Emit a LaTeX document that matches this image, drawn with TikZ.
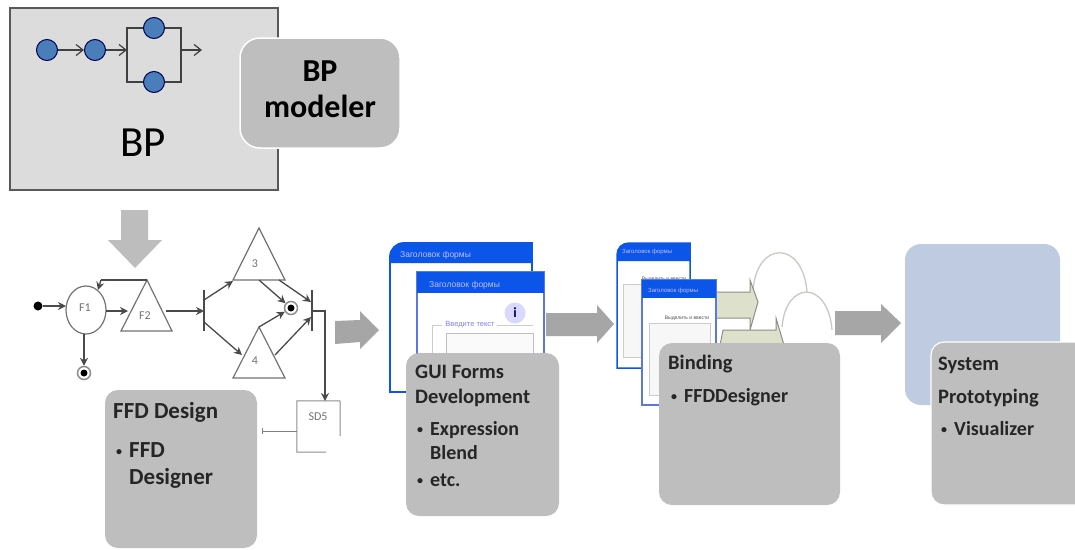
\documentclass[tikz,border=0pt]{standalone}
\usepackage{fontspec}
\setmainfont{Carlito}
\newfontfamily\cyr{Liberation Sans}
\usetikzlibrary{arrows.meta,shapes.geometric,calc}
\definecolor{boxgrey}{HTML}{BEBEBE}
\definecolor{arrowgrey}{HTML}{A6A6A6}
\definecolor{downgrey}{HTML}{BDBDBD}
\definecolor{pagegrey}{HTML}{DCDCDC}
\definecolor{dotblue}{HTML}{4A7EBB}
\definecolor{winblue}{HTML}{0B55E8}
\definecolor{sideblue}{HTML}{5A78E0}
\definecolor{flowline}{HTML}{4A4A4A}
\definecolor{paleblue}{HTML}{BFCBE1}
\definecolor{palegreen}{HTML}{DDE0CA}
\definecolor{archgrey}{HTML}{C9C9C3}
\tikzset{
  x=1pt,y=-1pt,
  toolbox/.style={fill=boxgrey,draw=none,rounded corners=13pt},
  boxhead/.style={anchor=base west,inner sep=0pt,font=\bfseries\fontsize{20.5}{21}\selectfont,text=black!85},
  boxitem/.style={anchor=base west,inner sep=0pt,font=\bfseries\fontsize{20}{20}\selectfont,text=black!85},
  bulletmark/.style={anchor=base west,inner sep=0pt,font=\bfseries\fontsize{12}{12}\selectfont,text=black!85},
  dotnode/.style={circle,draw=black!70!blue,line width=1pt,fill=dotblue,minimum size=21pt,inner sep=0pt},
  bpflow/.style={draw=black!75,line width=1.2pt,-{Straight Barb[length=7pt,width=11pt]}},
  bpline/.style={draw=black!75,line width=1.2pt},
  flow/.style={draw=flowline,line width=1.3pt,-{Stealth[length=8pt,width=8pt]}},
  flowplain/.style={draw=flowline,line width=1.3pt},
  shapeline/.style={draw=black!55,line width=1.2pt,fill=white},
  smalllabel/.style={inner sep=0pt,font=\fontsize{12}{12}\selectfont,text=black!55},
  endring/.style={circle,draw=black!45,line width=1.5pt,fill=white,minimum size=13pt,inner sep=0pt},
  enddot/.style={circle,fill=black,minimum size=7pt,inner sep=0pt},
  blockarrow/.style={fill=arrowgrey,draw=none},
  wintitle/.style={anchor=west,inner sep=0pt,text=white!75!blue,font=\cyr\fontsize{8.5}{8.5}\selectfont},
  tinytext/.style={inner sep=0pt,text=black!70,font=\cyr\fontsize{5}{5}\selectfont},
}
\begin{document}
\begin{tikzpicture}
\useasboundingbox (0,0) rectangle (1075,549);
\fill[white] (0,0) rectangle (1075,549);

% BP panel
\node[draw=black!65,line width=1.3pt,fill=pagegrey,minimum width=268pt,minimum height=182pt,inner sep=0pt] (bppanel) at (144,99) {};
\node[dotnode] (b1) at (47,50) {};
\node[dotnode] (b2) at (95,50) {};
\node[dotnode] (b3) at (154,28) {};
\node[dotnode] (b4) at (154,82) {};
\coordinate (joinL) at (127,50);
\coordinate (joinR) at (181,50);
\coordinate (bpout) at (202,50);
\draw[bpflow] (b1) -- (b2);
\draw[bpflow] (b2) -- (joinL);
\draw[bpline] (b3) -| (joinL) |- (b4);
\draw[bpline] (b3) -| (joinR) |- (b4);
\draw[bpflow] (joinR) -- (bpout);
\node[inner sep=0pt,font=\fontsize{43}{43}\selectfont,text=black] (bplabel) at (143,143) {BP};
\node[fill=boxgrey,draw=white,line width=1.5pt,rounded corners=20pt,minimum width=160pt,minimum height=110pt,inner sep=0pt] (modeler) at (320,93) {};
\node[inner sep=0pt,font=\bfseries\fontsize{32}{32}\selectfont,text=black] (modA) at (320,71) {BP};
\node[inner sep=0pt,font=\bfseries\fontsize{32}{32}\selectfont,text=black] (modB) at (320,106) {modeler};

% Down arrow
\fill[downgrey] (121,210) -- (148,210) -- (148,240) -- (162,240) -- (135,268) -- (108,240) -- (121,240) -- cycle;

% FFD net
\node[circle,fill=black,minimum size=9pt,inner sep=0pt] (start) at (38,306) {};
\node[ellipse,draw=black!55,line width=1.2pt,fill=white,minimum width=40pt,minimum height=48pt,inner sep=0pt] (F1) at (86,310) {};
\node[smalllabel] (F1t) at (85,308) {F1};
\coordinate (f2a) at (147,280); \coordinate (f2l) at (121,331); \coordinate (f2r) at (172,331);
\draw[shapeline] (f2a) -- (f2l) -- (f2r) -- cycle;
\node[smalllabel] (F2t) at (145,316) {F2};
\coordinate (t3a) at (259,228); \coordinate (t3l) at (233,280); \coordinate (t3r) at (285,280);
\draw[shapeline] (t3a) -- (t3l) -- (t3r) -- cycle;
\node[smalllabel] (T3t) at (255,264) {3};
\coordinate (t4a) at (259,327); \coordinate (t4l) at (233,378); \coordinate (t4r) at (285,378);
\draw[shapeline] (t4a) -- (t4l) -- (t4r) -- cycle;
\node[smalllabel] (T4t) at (255,361) {4};
\coordinate (barLt) at (204,290); \coordinate (barLb) at (204,331);
\coordinate (barRt) at (312,290); \coordinate (barRb) at (312,331);
\draw[flowplain] (barLt) -- (barLb);
\draw[flowplain] (barRt) -- (barRb);
\node[endring] (endA) at (84,373) {};
\node[enddot] (endAd) at (84,373) {};
\node[endring] (endB) at (291,308) {};
\node[enddot] (endBd) at (291,308) {};
\coordinate (f1in) at (66,306);
\draw[flow] (start) -- (f1in);
\coordinate (f1bot) at (84,334);
\draw[flow] (f1bot) -- (endA);
\coordinate (f2in) at (128,311); \coordinate (f1out) at (106,311);
\draw[flow] (f1out) -- (f2in);
\coordinate (loopA) at (101,280); \coordinate (loopB) at (98,290);
\draw[flowplain] (f2a) -- (loopA);
\draw[flow] (loopA) -- (loopB);
\coordinate (f2out) at (166,311); \coordinate (barLm) at (204,311);
\draw[flow] (f2out) -- (barLm);
\coordinate (lu) at (204,300); \coordinate (ld) at (204,322);
\coordinate (t3in) at (233,281); \coordinate (t4in) at (242,355);
\draw[flow] (lu) -- (t3in);
\draw[flow] (ld) -- (t4in);
\coordinate (t3o1) at (259,280); \coordinate (t3o2) at (279,280);
\coordinate (ru) at (311,302); \coordinate (rd) at (311,317);
\draw[flow] (t3o1) -- (endB);
\draw[flow] (t3o2) -- (ru);
\coordinate (t4o2) at (275,355);
\draw[flow] (t4a) -- (endB);
\draw[flow] (t4o2) -- (rd);
\node[draw=none,minimum width=43pt,minimum height=51pt,inner sep=0pt] (sd5) at (318.5,426.5) {};
\draw[draw=black!45,line width=1pt] (sd5.north east) -- (sd5.north west) -- (sd5.south west) -- (326,452);
\draw[draw=black!45,line width=1pt] (sd5.north east) -- (340,436);
\node[smalllabel] (sd5t) at (318,417) {SD5};
\coordinate (barRm) at (312,311);
\coordinate (sdin) at (325,401);
\draw[flow] (barRm) -| (sdin);
\coordinate (sdend) at (262,431);
\draw[draw=black!50,line width=1pt,{Bar[width=6pt,length=0.5pt]}-] (sdend) -- (sd5.west |- sdend);

% FFD box
\node[toolbox,minimum width=152pt,minimum height=158pt,inner sep=0pt] (ffdbox) at (181,469) {};
\node[boxhead,font=\bfseries\fontsize{23}{23}\selectfont] (ffd1) at (113,418) {FFD Design};
\node[bulletmark] (ffd2) at (116,455) {•};
\node[boxitem,font=\bfseries\fontsize{23}{23}\selectfont] (ffd3) at (129,457) {FFD};
\node[boxitem,font=\bfseries\fontsize{23}{23}\selectfont] (ffd4) at (129,484) {Designer};

% Arrow 1
\fill[blockarrow] (335,321) -- (360,320) -- (360,311) -- (379,330) -- (360,349) -- (360,342) -- (335,344) -- cycle;

% GUI windows
\draw[fill=white,draw=winblue,line width=1.8pt] (390,392) -- (390,257) .. controls (390,249) and (396,243) .. (404,243) -- (532,243) -- (532,392) -- cycle;
\fill[winblue] (390,263) -- (390,257) .. controls (390,249) and (396,243) .. (404,243) -- (532,243) -- (532,263) -- cycle;
\node[wintitle] (g1t) at (400,255) {Заголовок формы};
\draw[fill=white,draw=sideblue,line width=1.5pt] (417,392) -- (417,272) -- (544,272) -- (544,392) -- cycle;
\fill[winblue] (417,272) rectangle (544,293);
\node[wintitle] (g2t) at (429,285) {Заголовок формы};
\draw[draw=black!20,line width=.8pt] (432,392) -- (432,325) -- (442,325);
\draw[draw=black!20,line width=.8pt] (497,325) -- (533,325);
\draw[draw=black!25,line width=.8pt,fill=black!2] (446,392) -- (446,333) -- (533,333) -- (533,392);
\node[inner sep=0pt,text=blue!50,font=\cyr\fontsize{7.5}{7.5}\selectfont] (g2f) at (470,325) {Введите текст};
\node[circle,fill=blue!15,minimum size=21pt,inner sep=0pt,font=\bfseries\fontsize{14}{14}\selectfont,text=blue!40!black] (info) at (515,313) {i};

% GUI box
\node[toolbox,minimum width=153pt,minimum height=163pt,inner sep=0pt] (guibox) at (482.5,434.5) {};
\node[boxhead] (g1) at (415,378) {GUI Forms};
\node[boxhead] (g2) at (415,403) {Development};
\node[bulletmark] (g3) at (417,433) {•};
\node[boxitem] (g4) at (430,435) {Expression};
\node[boxitem] (g5) at (430,459) {Blend};
\node[bulletmark] (g6) at (417,484) {•};
\node[boxitem] (g7) at (430,486) {etc.};

% Arrow 2
\fill[blockarrow] (546,313) -- (597,313) -- (597,305) -- (614,324) -- (597,343) -- (597,336) -- (546,336) -- cycle;

% Binding sketch
\draw[archgrey,line width=1.3pt] (753,290) .. controls (757,240) and (803,240) .. (807,292);
\draw[archgrey,line width=1.3pt] (782,327) .. controls (786,280) and (828,280) .. (832,330);
\draw[draw=archgrey!70!black,fill=palegreen,line width=1pt] (716,292) -- (750,292) -- (750,280) -- (758,302) -- (750,330) -- (750,318) -- (716,318) -- cycle;
\draw[draw=archgrey!70!black,fill=palegreen,line width=1pt] (720,345) -- (723,330) -- (776,330) -- (776,318) -- (784,345) -- cycle;
\draw[fill=white,draw=winblue,line width=1.5pt] (617,368) -- (617,255) .. controls (617,248) and (622,243) .. (629,243) -- (690,243) -- (690,368) -- cycle;
\fill[winblue] (617,261) -- (617,255) .. controls (617,248) and (622,243) .. (629,243) -- (690,243) -- (690,261) -- cycle;
\node[wintitle,font=\cyr\fontsize{6}{6}\selectfont] (b1t) at (622,252) {Заголовок формы};
\draw[draw=black!20,fill=black!3,line width=.7pt] (623,357) -- (623,284) -- (690,284) -- (690,357) -- cycle;
\node[tinytext,fill=white] (b1f) at (664,279) {Выделить и ввести};
\draw[fill=white,draw=sideblue,line width=1.5pt] (642,405) -- (642,280) -- (716,280) -- (716,405) -- cycle;
\fill[winblue] (642,280) rectangle (716,298);
\node[wintitle,font=\cyr\fontsize{6}{6}\selectfont] (b2t) at (648,291) {Заголовок формы};
\draw[draw=black!20,fill=black!3,line width=.7pt] (649,395) -- (649,323) -- (710,323) -- (710,395) -- cycle;
\node[tinytext,fill=white] (b2f) at (687,318) {Выделить и ввести};

% Binding box
\node[toolbox,minimum width=181pt,minimum height=162pt,inner sep=0pt] (bindbox) at (749.5,424) {};
\node[boxhead] (bi1) at (668,369) {Binding};
\node[bulletmark] (bi2) at (671,400) {•};
\node[boxitem] (bi3) at (684,402) {FFDDesigner};

% Arrow 3
\fill[blockarrow] (835,311) -- (881,311) -- (881,304) -- (901,323) -- (881,343) -- (881,335) -- (835,335) -- cycle;

% System
\node[fill=paleblue,rounded corners=16pt,minimum width=155pt,minimum height=161pt,inner sep=0pt] (sysback) at (982.5,324.5) {};
\node[fill=boxgrey,draw=white,line width=1.2pt,rounded corners=13pt,minimum width=170pt,minimum height=163pt,inner sep=0pt] (sysbox) at (1016,423.5) {};
\node[boxhead] (s1) at (938,370) {System};
\node[boxhead] (s2) at (938,403) {Prototyping};
\node[bulletmark] (s3) at (941,433) {•};
\node[boxitem] (s4) at (954,435) {Visualizer};
\end{tikzpicture}
\end{document}
